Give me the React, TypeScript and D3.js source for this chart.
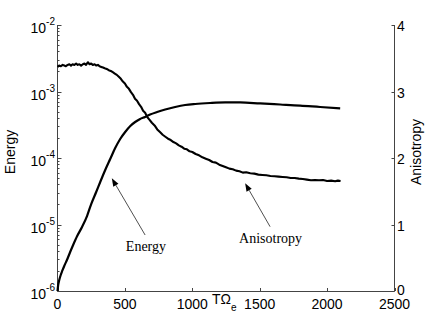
import React, { useEffect, useRef } from "react";
import * as d3 from "d3";

// Energy (left, log axis)
const energyT = [0, 5, 13, 24, 35, 50, 70, 94, 116, 146, 182, 219, 250, 287, 317, 354, 391, 428, 465, 502, 540, 576, 613, 650, 687, 739, 799, 873, 947, 1021, 1132, 1245, 1355, 1503, 1652, 1800, 1948, 2097];
const energyVal = [1.0e-6, 1.23e-6, 1.46e-6, 1.74e-6, 2.0e-6, 2.38e-6, 2.92e-6, 3.86e-6, 4.92e-6, 6.71e-6, 9.17e-6, 1.34e-5, 2.03e-5, 3.08e-5, 4.36e-5, 6.6e-5, 9.66e-5, 1.41e-4, 1.93e-4, 2.46e-4, 3.03e-4, 3.48e-4, 3.86e-4, 4.14e-4, 4.51e-4, 4.92e-4, 5.36e-4, 5.85e-4, 6.26e-4, 6.49e-4, 6.71e-4, 6.84e-4, 6.84e-4, 6.61e-4, 6.38e-4, 6.15e-4, 5.85e-4, 5.58e-4];

// Anisotropy (right, linear axis)
const anisoT = [0, 12, 25, 38, 50, 62, 75, 88, 100, 112, 125, 138, 150, 162, 175, 188, 200, 212, 225, 238, 250, 262, 275, 288, 300, 312, 325, 338, 350, 365, 380, 395, 410, 425, 440, 455, 470, 485, 500, 515, 530, 545, 560, 575, 590, 605, 620, 635, 650, 665, 680, 700, 720, 740, 760, 780, 800, 820, 840, 860, 880, 900, 920, 940, 960, 980, 1000, 1025, 1050, 1075, 1100, 1125, 1150, 1175, 1200, 1225, 1250, 1275, 1300, 1325, 1350, 1375, 1400, 1430, 1460, 1490, 1520, 1550, 1580, 1610, 1640, 1670, 1700, 1730, 1760, 1790, 1820, 1850, 1880, 1910, 1940, 1970, 2000, 2030, 2060, 2080, 2100];
const anisoVal = [3.37, 3.39, 3.38, 3.4, 3.39, 3.38, 3.4, 3.41, 3.39, 3.41, 3.4, 3.42, 3.4, 3.41, 3.39, 3.41, 3.42, 3.4, 3.44, 3.41, 3.42, 3.4, 3.41, 3.39, 3.4, 3.38, 3.37, 3.36, 3.35, 3.34, 3.32, 3.31, 3.29, 3.27, 3.25, 3.22, 3.19, 3.15, 3.12, 3.07, 3.04, 2.99, 2.95, 2.89, 2.86, 2.81, 2.77, 2.71, 2.68, 2.62, 2.58, 2.53, 2.49, 2.43, 2.39, 2.35, 2.32, 2.29, 2.27, 2.24, 2.22, 2.19, 2.17, 2.14, 2.13, 2.1, 2.09, 2.06, 2.04, 2.01, 1.99, 1.97, 1.94, 1.93, 1.9, 1.88, 1.86, 1.84, 1.83, 1.81, 1.8, 1.78, 1.785, 1.77, 1.765, 1.75, 1.745, 1.74, 1.73, 1.725, 1.72, 1.715, 1.71, 1.7, 1.7, 1.69, 1.685, 1.675, 1.665, 1.67, 1.665, 1.67, 1.655, 1.66, 1.65, 1.66, 1.655];

const xTicks = [0, 500, 1000, 1500, 2000, 2500];
const logTicks = [-6, -5, -4, -3, -2];
const rightTicks = [0, 1, 2, 3, 4];

// annotations in (t, anisotropy) units: text position, arrow tail, arrow tip
const notes = [
  { label: "Energy", tx: 656, ty: 0.606, x0: 650, y0: 0.842, x1: 403, y1: 1.695 },
  { label: "Anisotropy", tx: 1581, ty: 0.726, x0: 1577, y0: 0.967, x1: 1392, y1: 1.62 },
];

const W = 436;
const H = 328;
const sans = "'Liberation Sans', Arial, Helvetica, sans-serif";
const serif = "'Liberation Serif', 'Times New Roman', Times, serif";

export default function App() {
  const ref = useRef<SVGSVGElement>(null);

  useEffect(() => {
    const svg = d3.select(ref.current);
    svg.selectAll("*").remove();

    const left = 57.5, right = 394.5, top = 25, bottom = 291;
    const x = d3.scaleLinear().domain([0, 2500]).range([left, right]);
    const yE = d3.scaleLog().domain([1e-6, 1e-2]).range([bottom, top]);
    const yA = d3.scaleLinear().domain([0, 4]).range([bottom, top]);
    const axisCol = "#444";

    // axis lines
    svg.append("line").attr("x1", left).attr("x2", left).attr("y1", top).attr("y2", bottom + 0.5).attr("stroke", axisCol);
    svg.append("line").attr("x1", right).attr("x2", right).attr("y1", top).attr("y2", bottom + 0.5).attr("stroke", axisCol);
    svg.append("line").attr("x1", left).attr("x2", right).attr("y1", bottom + 0.5).attr("y2", bottom + 0.5).attr("stroke", axisCol);

    // bottom ticks
    xTicks.forEach((t) => {
      const px = Math.round(x(t)) + 0.5;
      svg.append("line").attr("x1", px).attr("x2", px).attr("y1", bottom).attr("y2", bottom - 3).attr("stroke", axisCol);
      svg.append("text").text(t).attr("x", x(t)).attr("y", 309).attr("text-anchor", "middle")
        .attr("font-family", sans).attr("font-size", 14).attr("fill", "#000");
    });

    // left log ticks, major + minor
    logTicks.forEach((e, i) => {
      const py = Math.round(yE(Math.pow(10, e))) + 0.5;
      svg.append("line").attr("x1", left).attr("x2", left + 4).attr("y1", py).attr("y2", py).attr("stroke", axisCol);
      const lab = svg.append("text").attr("x", 55).attr("y", py + 7).attr("text-anchor", "end")
        .attr("font-family", sans).attr("font-size", 14).attr("fill", "#000");
      lab.append("tspan").text("10");
      lab.append("tspan").text(`-${-e}`).attr("font-size", 10).attr("dy", -8);
      if (i < logTicks.length - 1) {
        for (let m = 2; m <= 9; m++) {
          const my = Math.round(yE(m * Math.pow(10, e))) + 0.5;
          svg.append("line").attr("x1", left).attr("x2", left + 2).attr("y1", my).attr("y2", my).attr("stroke", axisCol);
        }
      }
    });

    // right ticks
    rightTicks.forEach((v) => {
      const py = Math.round(yA(v)) + 0.5;
      svg.append("line").attr("x1", right).attr("x2", right - 3).attr("y1", py).attr("y2", py).attr("stroke", axisCol);
      svg.append("text").text(v).attr("x", 397).attr("y", v === 0 ? py + 3 : py + 5).attr("font-family", sans)
        .attr("font-size", 14).attr("fill", "#000");
    });

    // axis labels
    svg.append("text").text("Energy").attr("transform", "translate(15,152) rotate(-90)")
      .attr("text-anchor", "middle").attr("font-family", sans).attr("font-size", 14).attr("fill", "#000");
    svg.append("text").text("Anisotropy").attr("transform", "translate(421,152) rotate(-90)")
      .attr("text-anchor", "middle").attr("font-family", sans).attr("font-size", 14).attr("fill", "#000");
    const xl = svg.append("text").attr("x", 212).attr("y", 304).attr("font-family", sans)
      .attr("font-size", 14).attr("fill", "#000");
    xl.append("tspan").text("TΩ");
    xl.append("tspan").text("e").attr("font-size", 10).attr("dy", 7);

    // curves
    const energy = energyT.map((t, i) => [t, energyVal[i]] as [number, number]);
    const aniso = anisoT.map((t, i) => [t, anisoVal[i]] as [number, number]);

    svg.append("path").datum(energy)
      .attr("d", d3.line<[number, number]>().x((d) => x(d[0])).y((d) => yE(d[1])).curve(d3.curveMonotoneX))
      .attr("fill", "none").attr("stroke", "#000").attr("stroke-width", 2.2);

    svg.append("path").datum(aniso)
      .attr("d", d3.line<[number, number]>().x((d) => x(d[0])).y((d) => yA(d[1])))
      .attr("fill", "none").attr("stroke", "#000").attr("stroke-width", 2.1).attr("stroke-linejoin", "round");

    // annotation arrows
    notes.forEach((n) => {
      const ax0 = x(n.x0), ay0 = yA(n.y0), ax1 = x(n.x1), ay1 = yA(n.y1);
      const ang = Math.atan2(ay1 - ay0, ax1 - ax0);
      const len = 8, half = 3;
      const bx = ax1 - len * Math.cos(ang), by = ay1 - len * Math.sin(ang);
      svg.append("line").attr("x1", ax0).attr("y1", ay0).attr("x2", bx).attr("y2", by)
        .attr("stroke", "#222").attr("stroke-width", 0.8);
      const pts = [
        [ax1, ay1],
        [bx + half * Math.sin(ang), by - half * Math.cos(ang)],
        [bx - half * Math.sin(ang), by + half * Math.cos(ang)],
      ];
      svg.append("polygon").attr("points", pts.map((p) => p.join(",")).join(" ")).attr("fill", "#000");
      svg.append("text").text(n.label).attr("x", x(n.tx)).attr("y", yA(n.ty)).attr("text-anchor", "middle")
        .attr("font-family", serif).attr("font-size", 14).attr("fill", "#000");
    });
  }, []);

  return (
    <svg ref={ref} width={W} height={H} style={{ position: "absolute", left: 0, top: 0, background: "#fff" }}></svg>
  );
}
